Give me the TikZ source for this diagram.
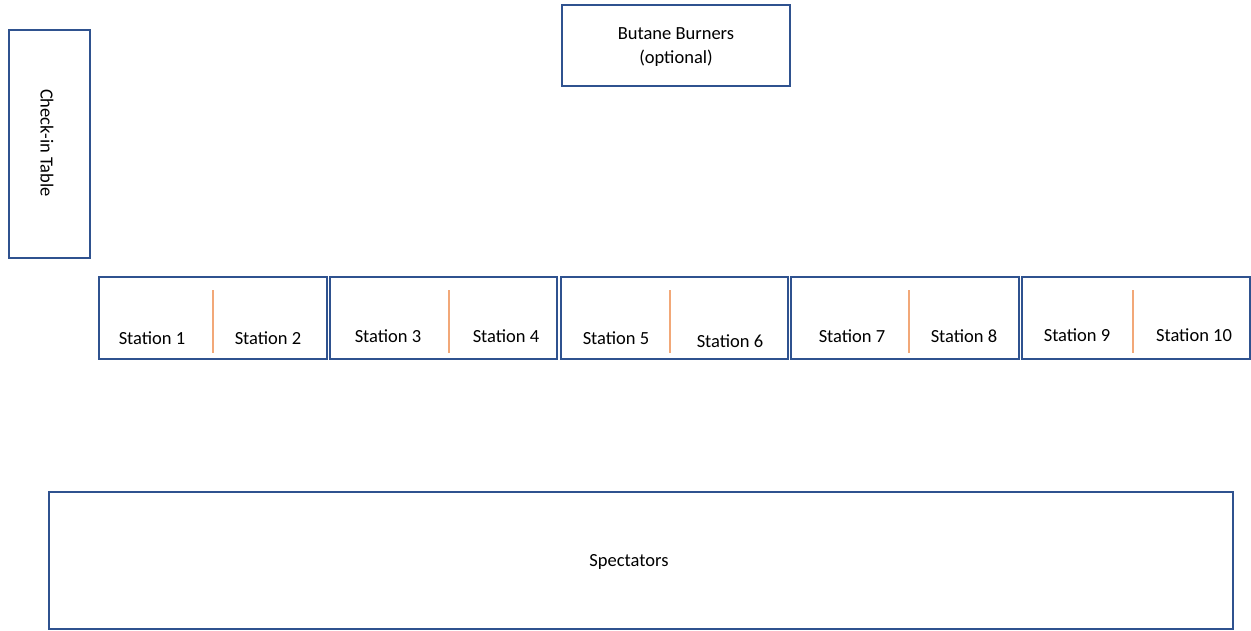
\documentclass[tikz,border=0pt]{standalone}
\usepackage{fontspec}
\setmainfont{Carlito}
\definecolor{boxblue}{HTML}{2F528F}
\definecolor{divorange}{HTML}{F2A878}
\begin{document}
\begin{tikzpicture}[x=1pt,y=-1pt,
  box/.style={draw=boxblue,line width=1.2pt},
  divider/.style={draw=divorange,line width=1.3pt},
  lbl/.style={font=\fontsize{18.5}{23.5}\selectfont,inner sep=0pt,align=center}]
\useasboundingbox (0,0) rectangle (1251,630);
% check-in table
\draw[box] (9,30) rectangle (90,258);
\node[lbl,rotate=-90] (checkin) at (47,143) {Check-in Table};
% butane
\draw[box] (562,5) rectangle (790,86);
\node[lbl] (butane) at (676,47) {Butane Burners\\(optional)};
% station boxes
\draw[box] (99,277) rectangle (327,359);
\draw[box] (330,277) rectangle (557,359);
\draw[box] (561,277) rectangle (788,359);
\draw[box] (791,277) rectangle (1019,359);
\draw[box] (1022,277) rectangle (1250,359);
% dividers
\foreach \x in {213,449,670,909,1133} \draw[divider] (\x,290) -- (\x,353);
% labels
\node[lbl] (s1) at (152,338) {Station 1};
\node[lbl] (s2) at (268,338) {Station 2};
\node[lbl] (s3) at (388,336) {Station 3};
\node[lbl] (s4) at (506,336) {Station 4};
\node[lbl] (s5) at (616,338) {Station 5};
\node[lbl] (s6) at (730,341) {Station 6};
\node[lbl] (s7) at (852,336) {Station 7};
\node[lbl] (s8) at (964,336) {Station 8};
\node[lbl] (s9) at (1077,335) {Station 9};
\node[lbl] (s10) at (1194,335) {Station 10};
% spectators
\draw[box] (49,492) rectangle (1233,629);
\node[lbl] (spect) at (629,562) {Spectators};
\end{tikzpicture}
\end{document}
